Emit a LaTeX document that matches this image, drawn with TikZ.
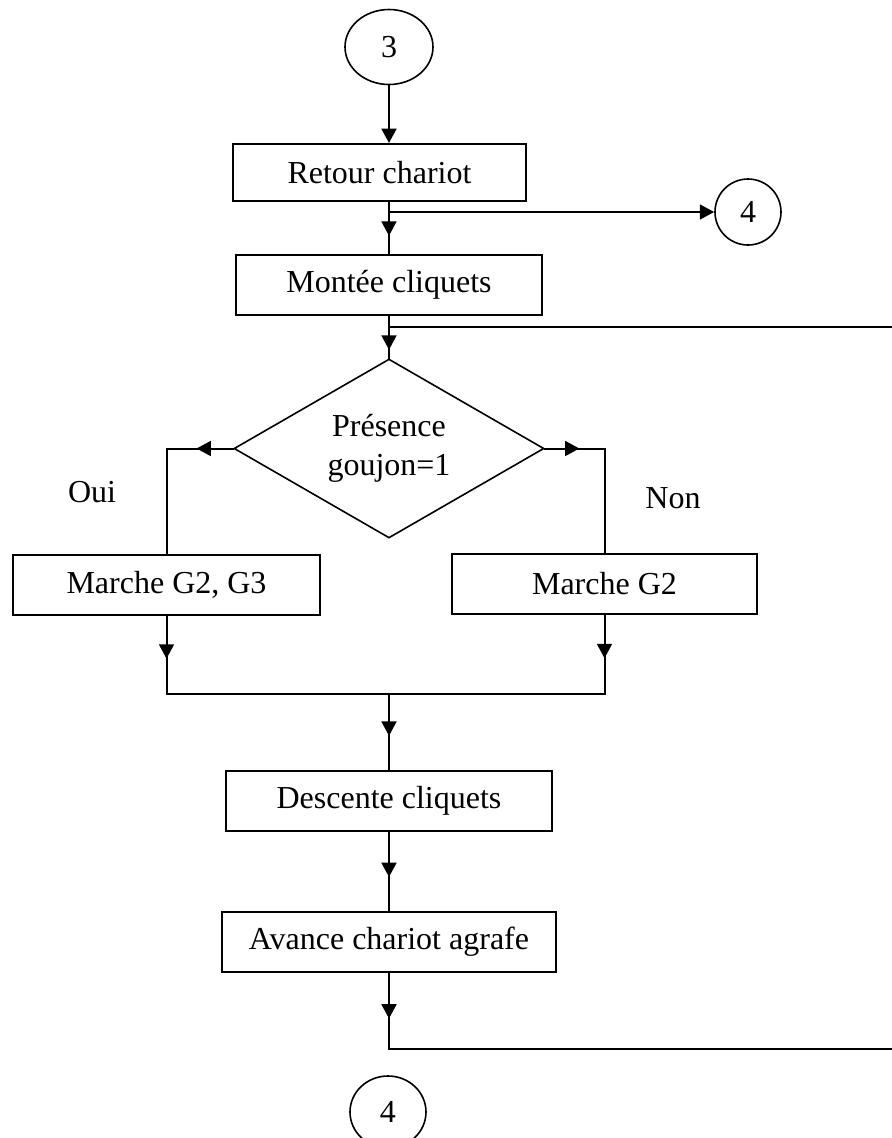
\documentclass[tikz,border=0pt]{standalone}
\usepackage{fontspec}
\setmainfont{Liberation Serif}
\usetikzlibrary{arrows.meta,shapes.geometric,decorations.markings}
% one drawing unit
\newdimen\pxu \pxu=0.375pt

\begin{document}
\begin{tikzpicture}[x=0.375pt,y=-0.375pt,
  line width=0.75pt, line cap=rect,
  every node/.style={font=\fontsize{12pt}{14.6pt}\selectfont},
  stepbox/.style={draw, rectangle, inner sep=0pt, line width=0.75pt},
  conn/.style={draw, ellipse, inner sep=0pt, line width=0.6pt},
  decision/.style={draw, diamond, inner sep=0pt, shape aspect=1.73, align=center, line width=0.6pt},
  tip/.style={-{Triangle[length=5.4pt,width=5.6pt]}},
  midarrow/.style={postaction={decorate}, decoration={markings,
      mark=at position #1 with {\arrow{Triangle[length=5.4pt,width=5.6pt]}}}}
]
\useasboundingbox (0,0) rectangle (892,1138);

% steps, test and connectors
\node[conn, minimum width=88\pxu, minimum height=75\pxu] (c3) at (389,47) {3};
\node[stepbox, minimum width=293\pxu, minimum height=57\pxu] (retour) at (379.5,172.5) {Retour chariot};
\node[conn, minimum width=66\pxu, minimum height=66\pxu] (c4a) at (748,212) {4};
\node[stepbox, minimum width=306\pxu, minimum height=60\pxu] (montee) at (389,285) {Montée cliquets};
\node[decision, minimum width=310\pxu, minimum height=179\pxu] (dia) at (389,448.5) {Présence\\goujon=1};
\node[stepbox, minimum width=307\pxu, minimum height=60\pxu] (g23) at (166.5,584.5) {Marche G2, G3};
\node[stepbox, minimum width=305\pxu, minimum height=60\pxu] (g2) at (604.5,583.5) {Marche G2};
\node[stepbox, minimum width=326\pxu, minimum height=60\pxu] (desc) at (389,801) {Descente cliquets};
\node[stepbox, minimum width=334\pxu, minimum height=60\pxu] (avance) at (389,942) {Avance chariot agrafe};
\node[conn, minimum width=76\pxu, minimum height=72\pxu] (c4b) at (388,1112) {4};
\node (oui) at (92,492) {Oui};
\node (non) at (673,498) {Non};

% helper points
\coordinate (j1) at (montee.north |- c4a.west);
\coordinate (e1) at (892,327);
\coordinate (l1) at (g23.north |- dia.west);
\coordinate (r1) at (g2.north |- dia.east);
\coordinate (mrow) at (0,694);
\coordinate (m1) at (g23.south |- mrow);
\coordinate (m2) at (g2.south |- mrow);
\coordinate (e2) at (892,1049);
\coordinate (b1) at (avance.south |- e2);

% flow lines
\draw[tip] (c3.south) -- (c3.south |- retour.north);
\draw[midarrow=0.65] (montee.north |- retour.south) -- (montee.north);
\draw[tip] (j1) -- (c4a.west);
\draw[midarrow=0.8] (montee.south) -- (dia.north);
\draw (montee.south |- e1) -- (e1);
\draw[midarrow=0.55] (dia.west) -- (l1);
\draw (l1) -- (g23.north);
\draw[midarrow=0.58] (dia.east) -- (r1);
\draw (r1) -- (g2.north);
\draw[midarrow=0.55] (g23.south) -- (m1);
\draw[midarrow=0.55] (g2.south) -- (m2);
\draw (m1) -- (m2);
\draw[midarrow=0.55] (desc.north |- mrow) -- (desc.north);
\draw[midarrow=0.57] (desc.south) -- (avance.north);
\draw[midarrow=0.6] (avance.south) -- (b1);
\draw (b1) -- (e2);
\end{tikzpicture}
\end{document}
